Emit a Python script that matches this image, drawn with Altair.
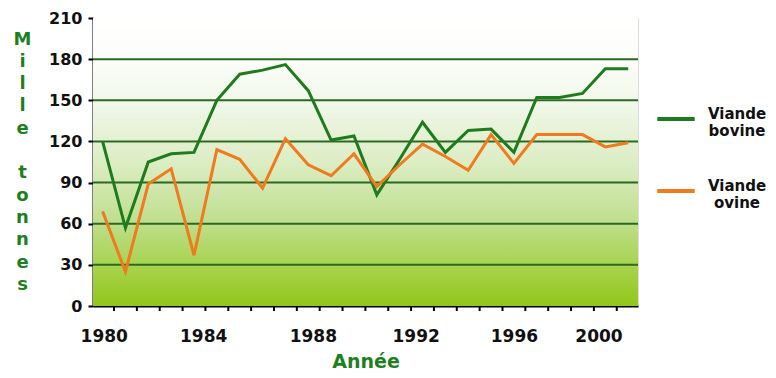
import altair as alt
import pandas as pd

idx = list(range(24))
bovine = [120, 57, 105, 111, 112, 150, 169, 172, 176, 157, 121, 124,
          81, 107, 134, 112, 128, 129, 112, 152, 152, 155, 173, 173]
ovine = [69, 25, 89, 100, 37, 114, 107, 86, 122, 103, 95, 111,
         87, 103, 118, 109, 99, 125, 104, 125, 125, 125, 116, 119]
series_names = ["Viande bovine", "Viande ovine"]
series_colors = ["#1e7b1e", "#f07a1e"]

year_labels = ["1980", "1984", "1988", "1992", "1996", "2000"]
label_pos = [0.05, 4.4, 9.2, 13.7, 18.0, 21.7]
y_ticks = [0, 30, 60, 90, 120, 150, 180, 210]
y_title = ["M", "i", "l", "l", "e", "\u2800", "t", "o", "n", "n", "e", "s"]

rows = []
for i, b, o in zip(idx, bovine, ovine):
    rows.append({"i": i, "serie": series_names[0], "v": b})
    rows.append({"i": i, "serie": series_names[1], "v": o})
df = pd.DataFrame(rows)
mids = pd.DataFrame({"i": [i + 0.5 for i in idx[:-1]]})
gridv = pd.DataFrame({"v": y_ticks[1:-1]})

W, H = 545, 288
xscale = alt.Scale(domain=[-0.42, 23.43], nice=False, zero=False)
yscale = alt.Scale(domain=[0, 210], nice=False)

label_expr = "[" + ",".join("'%s'" % s for s in year_labels) + "][indexof([" + \
    ",".join(str(p) for p in label_pos) + "], datum.value)]"

xaxis = alt.Axis(
    values=label_pos, labelExpr=label_expr, ticks=False, tickSize=0,
    grid=False, domainColor="#000000", domainWidth=2,
    labelFont="DejaVu Sans", labelFontWeight="bold", labelFontSize=17,
    labelColor="#111111", labelPadding=22, labelFlush=False,
    labelOverlap=False,
    title="Année", titleFont="DejaVu Sans", titleFontWeight="bold",
    titleFontSize=19, titleColor="#1f7f1f", titlePadding=8,
)
yaxis = alt.Axis(
    values=y_ticks, grid=False, tickSize=5, tickWidth=2,
    tickColor="#000000", domainColor="#000000", domainWidth=2,
    labelFont="DejaVu Sans", labelFontWeight="bold", labelFontSize=16,
    labelColor="#111111", labelPadding=6,
    title=y_title,
    titleAngle=0, titleAlign="center", titleBaseline="top",
    titleX=-71, titleY=12, titleLineHeight=22.3,
    titleFont="DejaVu Sans", titleFontWeight="bold", titleFontSize=18,
    titleColor="#1f7f1f",
)

grad = alt.Gradient(
    gradient="linear",
    stops=[
        alt.GradientStop(color="#ffffff", offset=0),
        alt.GradientStop(color="#fcfdf9", offset=0.14),
        alt.GradientStop(color="#f1f7e9", offset=0.3),
        alt.GradientStop(color="#dcedc4", offset=0.5),
        alt.GradientStop(color="#c0df90", offset=0.7),
        alt.GradientStop(color="#a7d34e", offset=0.86),
        alt.GradientStop(color="#92c61a", offset=1),
    ],
    x1=0, x2=0, y1=0, y2=1,
)

bg = alt.Chart(alt.Data(values=[{}])).mark_rect(fill=grad).encode(
    x=alt.value(0), x2=alt.value(W), y=alt.value(0), y2=alt.value(H)
)

grid = alt.Chart(gridv).mark_rule(color="#2c6a22", strokeWidth=2).encode(
    y=alt.Y("v:Q", scale=yscale, axis=yaxis)
)

xticks = alt.Chart(mids).mark_rule(color="#000000", strokeWidth=2).encode(
    x=alt.X("i:Q", scale=xscale, axis=xaxis),
    y=alt.value(H), y2=alt.value(H + 5),
)

lines = alt.Chart(df).mark_line(strokeWidth=3).encode(
    x=alt.X("i:Q", scale=xscale, axis=xaxis),
    y=alt.Y("v:Q", scale=yscale, axis=yaxis),
    color=alt.Color(
        "serie:N",
        scale=alt.Scale(domain=series_names, range=series_colors),
        legend=alt.Legend(
            title=None, orient="none", legendX=562, legendY=80,
            symbolType="stroke", symbolSize=1400, symbolStrokeWidth=4,
            labelExpr="split(datum.label, ' ')",
            labelFont="DejaVu Sans", labelFontWeight="bold", labelFontSize=15,
            labelColor="#111111", labelAlign="center", labelOffset=40,
            labelBaseline="alphabetic",
            rowPadding=31,
        ),
    ),
)

chart = alt.layer(bg, grid, xticks, lines).properties(
    width=W, height=H,
    autosize=alt.AutoSizeParams(type="none"),
    padding={"left": 85, "top": 10, "right": 130, "bottom": 64},
).configure_view(stroke=None).configure(background="#ffffff")

chart.save("out.html", embed_options={"renderer": "svg", "actions": False})
